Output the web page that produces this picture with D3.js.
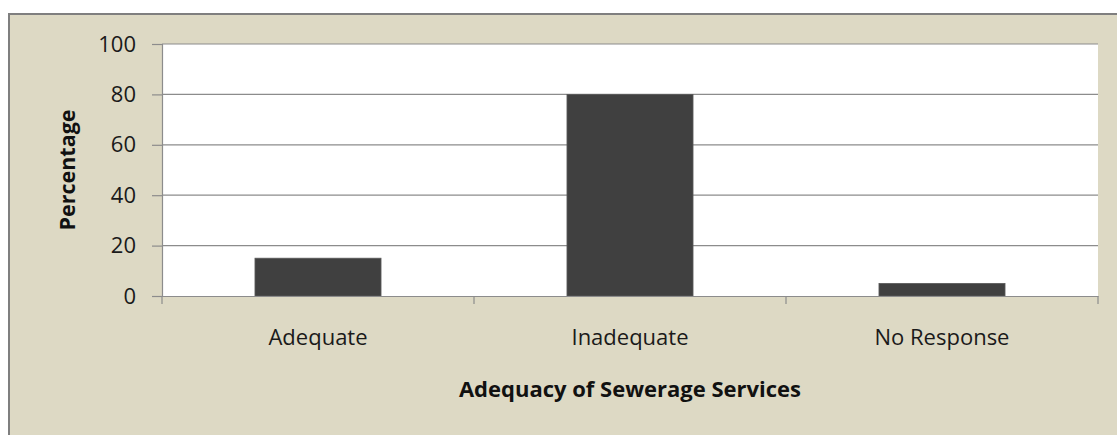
<!DOCTYPE html>
<html><head><meta charset="utf-8">
<script src="https://cdn.jsdelivr.net/npm/d3@7"></script>
<style>body{margin:0;background:#fff}svg{display:block}</style>
</head><body>
<script>
const categories = ["Adequate", "Inadequate", "No Response"];
const values = [15, 80, 5];
const yTicks = [0, 20, 40, 60, 80, 100];
const xTitle = "Adequacy of Sewerage Services";
const yTitle = "Percentage";

const W = 1117, H = 435;
const svg = d3.select("body").append("svg").attr("width", W).attr("height", H);
svg.append("rect").attr("width", W).attr("height", H).attr("fill", "#fff");
svg.append("rect").attr("x", 9).attr("y", 14).attr("width", W + 20).attr("height", H + 20)
  .attr("fill", "#DDD9C4").attr("stroke", "#7f7f7f").attr("stroke-width", 2);

const m = {l: 162, r: 1098, t: 44, b: 296};
const x = d3.scaleBand().domain(categories).range([m.l, m.r]).paddingInner(0.596).paddingOuter(0.298);
const y = d3.scaleLinear().domain([0, 100]).range([m.b, m.t]);

svg.append("rect").attr("x", m.l).attr("y", m.t).attr("width", m.r - m.l).attr("height", m.b - m.t).attr("fill", "#fff");

const font = "Open Sans, sans-serif";
const fs = 22;
// gridlines
svg.append("g").selectAll("line").data(yTicks.filter(d => d > 0)).join("line")
  .attr("x1", m.l).attr("x2", m.r).attr("y1", d => y(d)).attr("y2", d => y(d))
  .attr("stroke", "#8c8c8c").attr("stroke-width", 1.2);

// bars
svg.append("g").selectAll("rect").data(values).join("rect")
  .attr("x", (d, i) => x(categories[i])).attr("width", x.bandwidth())
  .attr("y", d => y(d)).attr("height", d => y(0) - y(d))
  .attr("fill", "#404040").attr("stroke", "#5a5a5a").attr("stroke-width", 0.8);

// y axis
const ya = svg.append("g").attr("transform", `translate(${m.l},0)`)
  .call(d3.axisLeft(y).tickValues(yTicks).tickSize(10).tickPadding(16));
ya.select(".domain").attr("stroke", "#8c8c8c").attr("stroke-width", 1.2);
ya.selectAll(".tick line").attr("stroke", "#8c8c8c").attr("stroke-width", 1.2);
ya.selectAll("text").attr("font-family", font).attr("font-size", fs).attr("fill", "#1a1a1a");

// x axis
const xa = svg.append("g").attr("transform", `translate(0,${m.b})`)
  .call(d3.axisBottom(x).tickSize(0).tickPadding(0));
xa.select(".domain").attr("stroke", "#8c8c8c").attr("stroke-width", 1.2);
xa.selectAll("text").attr("font-family", font).attr("font-size", fs).attr("fill", "#1a1a1a")
  .attr("dy", null).attr("y", 49);
const bounds = [m.l].concat(categories.map(c => x(c) + x.bandwidth() + x.step() * x.paddingInner() / 2));
bounds[bounds.length - 1] = m.r;
svg.append("g").selectAll("line").data(bounds).join("line")
  .attr("x1", d => d).attr("x2", d => d).attr("y1", m.b).attr("y2", m.b + 8)
  .attr("stroke", "#8c8c8c").attr("stroke-width", 1.2);

svg.append("text").attr("x", 630).attr("y", 397).attr("text-anchor", "middle")
  .attr("font-family", font).attr("font-weight", "bold").attr("font-size", 22).attr("fill", "#111").text(xTitle);
svg.append("text").attr("transform", `translate(75,${(m.t + m.b) / 2}) rotate(-90)`).attr("text-anchor", "middle")
  .attr("font-family", font).attr("font-weight", "bold").attr("font-size", 21.5).attr("fill", "#111").text(yTitle);
</script>
</body></html>
